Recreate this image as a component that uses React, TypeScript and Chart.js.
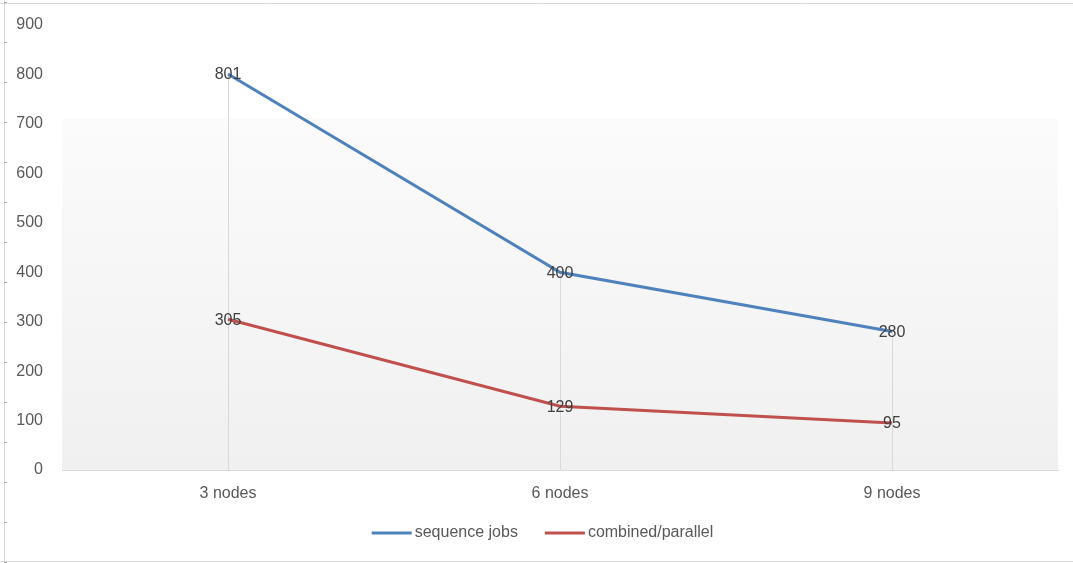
import React, { useEffect, useRef } from "react";
import { Chart, registerables } from "chart.js";

Chart.register(...registerables);

const categories = ["3 nodes", "6 nodes", "9 nodes"];
const seriesNames = ["sequence jobs", "combined/parallel"];
const sequenceJobs = [801, 400, 280];
const combinedParallel = [305, 129, 95];
const seriesColors = ["#4F81BD", "#C0504D"];
const yMin = 0;
const yMax = 900;
const yStep = 100;

const FONT = "'Liberation Sans', Arial, sans-serif";
const TEXT = "#595959";

const framePlugin = {
  id: "frame",
  beforeDraw(chart: any) {
    const { ctx, chartArea, width, height } = chart;
    ctx.save();
    // plot area gradient
    const top = chartArea.top + 93;
    const g = ctx.createLinearGradient(0, top, 0, chartArea.bottom);
    g.addColorStop(0, "#fbfbfb");
    g.addColorStop(1, "#f0f0f0");
    ctx.fillStyle = g;
    ctx.fillRect(chartArea.left, top, chartArea.right - chartArea.left, chartArea.bottom - top);
    // outer frame
    ctx.strokeStyle = "#d9d9d9";
    ctx.lineWidth = 1;
    ctx.beginPath();
    ctx.moveTo(0, 3.5);
    ctx.lineTo(width, 3.5);
    ctx.moveTo(4.5, 0);
    ctx.lineTo(4.5, height);
    ctx.moveTo(0, height - 1.5);
    ctx.lineTo(width, height - 1.5);
    ctx.stroke();
    ctx.strokeStyle = "#a6a6a6";
    ctx.beginPath();
    for (let y = 2; y < height; y += 40) {
      ctx.moveTo(4, y + 0.5);
      ctx.lineTo(7, y + 0.5);
    }
    ctx.stroke();
    ctx.restore();
  },
};

const dropLinesPlugin = {
  id: "dropLines",
  beforeDatasetsDraw(chart: any) {
    const { ctx, chartArea } = chart;
    const metas = chart.data.datasets.map((_: any, i: number) => chart.getDatasetMeta(i));
    ctx.save();
    ctx.strokeStyle = "#d9d9d9";
    ctx.lineWidth = 1;
    for (let i = 0; i < chart.data.labels.length; i++) {
      let minY = Infinity;
      let x = 0;
      metas.forEach((m: any) => {
        const p = m.data[i];
        if (p && p.y < minY) {
          minY = p.y;
          x = p.x;
        }
      });
      const px = Math.round(x) + 0.5;
      ctx.beginPath();
      ctx.moveTo(px, minY);
      ctx.lineTo(px, chartArea.bottom);
      ctx.stroke();
    }
    ctx.restore();
  },
};

const dataLabelsPlugin = {
  id: "dataLabels",
  afterDatasetsDraw(chart: any) {
    const { ctx } = chart;
    ctx.save();
    ctx.font = `16px ${FONT}`;
    ctx.fillStyle = "#404040";
    ctx.textAlign = "center";
    ctx.textBaseline = "middle";
    chart.data.datasets.forEach((ds: any, i: number) => {
      const meta = chart.getDatasetMeta(i);
      meta.data.forEach((p: any, j: number) => {
        ctx.fillText(String(ds.data[j]), p.x, p.y + 1);
      });
    });
    ctx.restore();
  },
};

const legendPlugin = {
  id: "customLegend",
  afterDraw(chart: any) {
    const { ctx, width } = chart;
    ctx.save();
    ctx.font = `16px ${FONT}`;
    ctx.textBaseline = "middle";
    ctx.textAlign = "left";
    const lineW = 40;
    const gap = 3;
    const itemGap = 27;
    const items = chart.data.datasets.map((ds: any) => ({
      label: ds.label,
      color: ds.borderColor,
      w: lineW + gap + ctx.measureText(ds.label).width,
    }));
    const total = items.reduce((s: number, it: any) => s + it.w, 0) + itemGap * (items.length - 1);
    let x = width / 2 + 6 - total / 2;
    const y = 533;
    items.forEach((it: any) => {
      ctx.strokeStyle = it.color;
      ctx.lineWidth = 3;
      ctx.beginPath();
      ctx.moveTo(x, y);
      ctx.lineTo(x + lineW, y);
      ctx.stroke();
      ctx.fillStyle = TEXT;
      ctx.fillText(it.label, x + lineW + gap, y);
      x += it.w + itemGap;
    });
    ctx.restore();
  },
};

export default function App() {
  const ref = useRef<HTMLCanvasElement>(null);
  useEffect(() => {
    if (!ref.current) return;
    const chart = new Chart(ref.current, {
      type: "line",
      data: {
        labels: categories,
        datasets: [
          {
            label: seriesNames[0],
            data: sequenceJobs,
            borderColor: seriesColors[0],
            backgroundColor: seriesColors[0],
            borderWidth: 3,
            pointRadius: 0,
            tension: 0,
          },
          {
            label: seriesNames[1],
            data: combinedParallel,
            borderColor: seriesColors[1],
            backgroundColor: seriesColors[1],
            borderWidth: 3,
            pointRadius: 0,
            tension: 0,
          },
        ],
      },
      options: {
        responsive: false,
        animation: false,
        layout: { padding: { top: 25, right: 15, bottom: 48, left: 0 } },
        plugins: {
          legend: { display: false },
          tooltip: { enabled: false },
        },
        scales: {
          x: {
            offset: true,
            grid: { display: false, drawTicks: false },
            border: { display: true, color: "#d9d9d9", width: 1 },
            ticks: { color: TEXT, font: { family: FONT, size: 16 }, padding: 14 },
            afterFit(scale: any) {
              scale.height = 45;
            },
          },
          y: {
            min: yMin,
            max: yMax,
            grid: { display: false, drawTicks: false },
            border: { display: false },
            ticks: { stepSize: yStep, color: TEXT, font: { family: FONT, size: 16 }, padding: 19 },
            afterFit(scale: any) {
              scale.width = 62;
              scale.paddingTop = 10;
              scale.paddingBottom = 10;
            },
          },
        },
      },
      plugins: [framePlugin, dropLinesPlugin, dataLabelsPlugin, legendPlugin],
    });
    return () => chart.destroy();
  }, []);
  return (
    <div style={{ position: "absolute", left: 0, top: 0, width: 1073, height: 563, background: "#fff" }}>
      <canvas ref={ref} width={1073} height={563} />
    </div>
  );
}
